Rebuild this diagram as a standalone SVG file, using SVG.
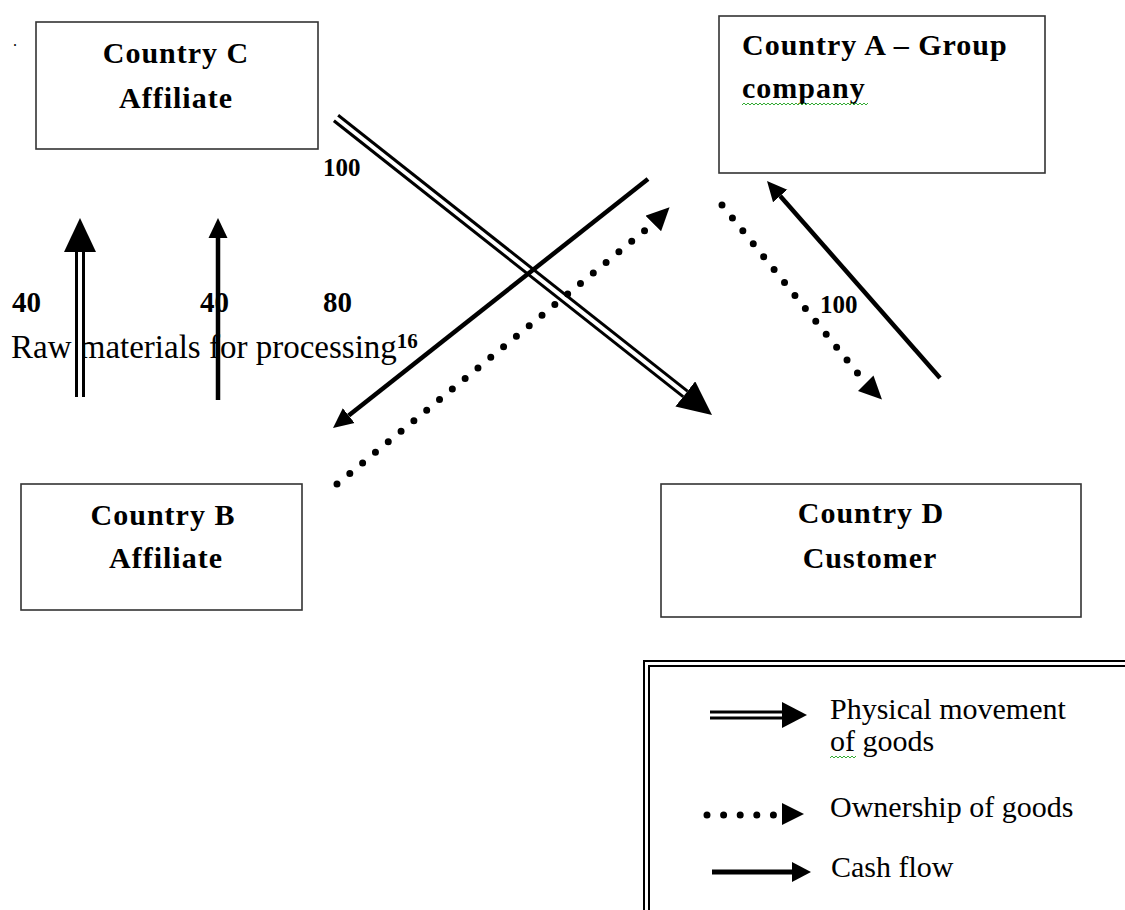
<svg xmlns="http://www.w3.org/2000/svg" width="1125" height="910" viewBox="0 0 1125 910">
<style>
.box{fill:#fff;stroke:#333;stroke-width:1.6}
.bt{font-family:"Liberation Serif",serif;font-weight:bold;font-size:30px;letter-spacing:1px;fill:#000}
.num{font-family:"Liberation Serif",serif;font-weight:bold;fill:#000}
.rt{font-family:"Liberation Serif",serif;font-size:30px;fill:#000}
.dbl{fill:none;stroke:#000;stroke-width:10}
.dblw{fill:none;stroke:#fff;stroke-width:4}
.cash{fill:none;stroke:#000;stroke-width:4.5}
.dot{fill:none;stroke:#000;stroke-width:7;stroke-linecap:round;stroke-dasharray:0 16.6}
.sq{fill:none;stroke:#3a3;stroke-width:1}
.hd{fill:#000}
</style>
<defs>
<marker id="hBig" markerUnits="userSpaceOnUse" viewBox="0 -16 34 32" markerWidth="34" markerHeight="32" refX="0" refY="0" orient="auto"><path d="M0,-16 L34,0 L0,16 Z" class="hd"/></marker>
<marker id="hCash" markerUnits="userSpaceOnUse" viewBox="0 -10 20 20" markerWidth="20" markerHeight="20" refX="0" refY="0" orient="auto"><path d="M0,-9.5 L20,0 L0,9.5 Z" class="hd"/></marker>
<marker id="hDot" markerUnits="userSpaceOnUse" viewBox="0 -11 23 22" markerWidth="23" markerHeight="22" refX="0" refY="0" orient="auto"><path d="M0,-11 L23,0 L0,11 Z" class="hd"/></marker>
</defs>

<text x="13" y="46" class="rt" style="font-size:16px">.</text>

<g id="nodeC">
<rect class="box" x="36" y="22" width="282" height="127"/>
<text class="bt" x="176" y="63" text-anchor="middle">Country C</text>
<text class="bt" x="176" y="108" text-anchor="middle">Affiliate</text>
</g>
<g id="nodeA">
<rect class="box" x="719" y="16" width="326" height="157"/>
<text class="bt" x="742" y="55">Country A – Group</text>
<text class="bt" x="742" y="98">company</text>
<polyline class="sq" points="742,105 744,103 746,105 748,103 750,105 752,103 754,105 756,103 758,105 760,103 762,105 764,103 766,105 768,103 770,105 772,103 774,105 776,103 778,105 780,103 782,105 784,103 786,105 788,103 790,105 792,103 794,105 796,103 798,105 800,103 802,105 804,103 806,105 808,103 810,105 812,103 814,105 816,103 818,105 820,103 822,105 824,103 826,105 828,103 830,105 832,103 834,105 836,103 838,105 840,103 842,105 844,103 846,105 848,103 850,105 852,103 854,105 856,103 858,105 860,103 862,105 864,103 866,105 868,103"/>
</g>
<g id="nodeB">
<rect class="box" x="21" y="484" width="281" height="126"/>
<text class="bt" x="163" y="525" text-anchor="middle">Country B</text>
<text class="bt" x="166" y="568" text-anchor="middle">Affiliate</text>
</g>
<g id="nodeD">
<rect class="box" x="661" y="484" width="420" height="133"/>
<text class="bt" x="871" y="523" text-anchor="middle">Country D</text>
<text class="bt" x="870" y="568" text-anchor="middle">Customer</text>
</g>

<g id="labels">
<text class="num" x="12" y="312" style="font-size:29px">40</text>
<text class="num" x="200" y="312" style="font-size:29px">40</text>
<text class="num" x="323" y="312" style="font-size:29px">80</text>
<text class="num" x="323" y="176" style="font-size:25px">100</text>
<text class="num" x="820" y="313" style="font-size:25px">100</text>
<text class="rt" x="11" y="358" style="font-size:33px">Raw materials for processing<tspan class="num" style="font-size:21px" dy="-10">16</tspan></text>
</g>

<g id="connectors">
<path class="dbl" d="M80,397 L80,252" marker-end="url(#hBig)"/>
<path class="dblw" d="M80,400 L80,252"/>
<path class="cash" d="M218,400 L218,238" marker-end="url(#hCash)"/>
<path class="dbl" d="M336,118 L685.3,393.9" marker-end="url(#hBig)"/>
<path class="dblw" d="M334.5,116.8 L685.3,393.9"/>
<path class="cash" d="M648,179 L348.7,415.6" marker-end="url(#hCash)"/>
<path class="dot" d="M337,484 L653.2,223.6"/>
<path d="M653.2,223.6 L653.3,223.5" fill="none" stroke="none" marker-end="url(#hDot)"/>
<path class="dot" d="M722,205 L865.6,383.1"/>
<path d="M865.6,383.1 L865.7,383.2" fill="none" stroke="none" marker-end="url(#hDot)"/>
<path class="cash" d="M940,378 L780.2,196" marker-end="url(#hCash)"/>
</g>

<g id="legend">
<path d="M1125,661 L644,661 L644,910" fill="none" stroke="#000" stroke-width="2"/>
<path d="M1125,666 L649,666 L649,910" fill="none" stroke="#000" stroke-width="2"/>
<path d="M710,715 L782,715" stroke="#000" stroke-width="9" fill="none"/>
<path d="M708,715 L782,715" stroke="#fff" stroke-width="3" fill="none"/>
<polygon class="hd" points="782,702 807,715 782,728"/>
<text class="rt" x="830" y="719">Physical movement</text>
<text class="rt" x="830" y="751">of goods</text>
<polyline class="sq" points="830,758 832,756 834,758 836,756 838,758 840,756 842,758 844,756 846,758 848,756 850,758 852,756 854,758 856,756"/>
<path class="dot" d="M707,815 L774,815"/>
<polygon class="hd" points="782,803 804,814 782,825"/>
<text class="rt" x="830" y="817">Ownership of goods</text>
<path d="M712,872 L793,872" stroke="#000" stroke-width="5" fill="none"/>
<polygon class="hd" points="792,862 811,872 792,882"/>
<text class="rt" x="831" y="877">Cash flow</text>
</g>
</svg>
